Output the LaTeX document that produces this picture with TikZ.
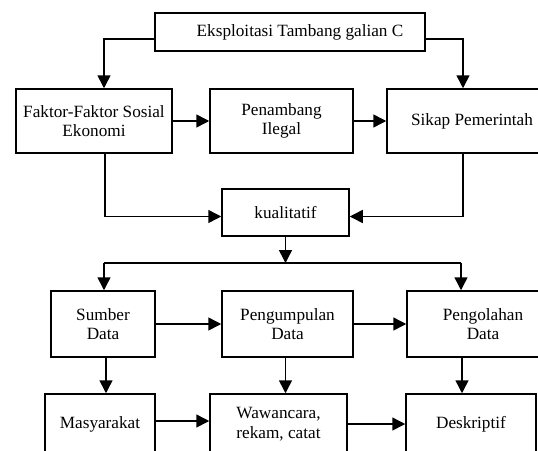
\documentclass[tikz,border=0pt]{standalone}
\usepackage{fontspec}
\setmainfont{Liberation Serif}
\usetikzlibrary{arrows.meta,calc}
\begin{document}
\begin{tikzpicture}[x=1pt,y=-1pt,
  box/.style={draw,line width=1.5pt,align=center,inner sep=0pt,
    font=\fontsize{17.2}{19.5}\selectfont},
  conn/.style={line width=1.5pt},
  arr/.style={conn,-{Triangle[length=13pt,width=13pt]}}]
\clip (0,0) rectangle (538,450);
\fill[white] (0,0) rectangle (538,450);
% nodes
\node[box,minimum width=270pt,minimum height=38pt] (top) at (290,32) {\hspace*{20pt}Eksploitasi Tambang galian C};
\node[box,minimum width=156pt,minimum height=64pt] (faktor) at (94,121) {Faktor-Faktor Sosial\\Ekonomi};
\node[box,minimum width=143pt,minimum height=64pt] (penambang) at (281.5,121) {Penambang\\Ilegal};
\node[box,minimum width=170pt,minimum height=64pt] (sikap) at (472,121) {Sikap Pemerintah};
\node[box,minimum width=127pt,minimum height=47pt] (kual) at (285.5,212.5) {kualitatif};
\node[box,minimum width=104pt,minimum height=66pt] (sumber) at (103,324) {Sumber\\Data};
\node[box,minimum width=131pt,minimum height=66pt] (pengum) at (287.5,324) {Pengumpulan\\Data};
\node[box,minimum width=152pt,minimum height=66pt] (pengol) at (483,324) {Pengolahan\\Data};
\node[box,minimum width=110pt,minimum height=60pt] (masy) at (100,424) {Masyarakat};
\node[box,minimum width=137pt,minimum height=60pt] (waw) at (278.5,424) {Wawancara,\\rekam, catat};
\node[box,minimum width=130pt,minimum height=60pt] (desk) at (471,424) {Deskriptif};
% coordinates
\coordinate (tl) at ([yshift=-7pt]top.west);
\coordinate (tr) at ([yshift=-7pt]top.east);
\coordinate (fa) at ([xshift=10pt]faktor.north);
\coordinate (si) at ([xshift=-9pt]sikap.north);
\coordinate (fb) at ([xshift=11pt]faktor.south);
\coordinate (sb) at ([xshift=-9pt]sikap.south);
\coordinate (kw) at ([yshift=-4pt]kual.west);
\coordinate (ke) at ([yshift=-4pt]kual.east);
\coordinate (split) at (kual.south |- 0,263);
\coordinate (splitL) at (104,263);
\coordinate (splitR) at (461,263);
\coordinate (pob) at (462,357);
% connectors
\draw[arr] (tl) -| (fa);
\draw[arr] (tr) -| (si);
\draw[arr] (faktor) -- (penambang);
\draw[arr] (penambang) -- (sikap);
\draw[arr] (fb) |- (kw);
\draw[arr] (sb) |- (ke);
\draw[arr] (kual.south) -- (split);
\draw[conn] (splitL) -- (splitR);
\draw[arr] (splitL) -- (splitL |- sumber.north);
\draw[arr] (splitR) -- (splitR |- pengol.north);
\draw[arr] (sumber) -- (pengum);
\draw[arr] (pengum) -- (pengol);
\draw[arr] ([xshift=3pt]sumber.south) -- ([xshift=3pt]sumber.south |- masy.north);
\draw[arr] ([xshift=-2pt]pengum.south) -- ([xshift=-2pt]pengum.south |- waw.north);
\draw[arr] (pob) -- (pob |- desk.north);
\draw[arr] ([yshift=3pt]masy.east) -- ([yshift=3pt]masy.east -| waw.west);
\draw[arr] (waw) -- (desk);
\end{tikzpicture}
\end{document}
